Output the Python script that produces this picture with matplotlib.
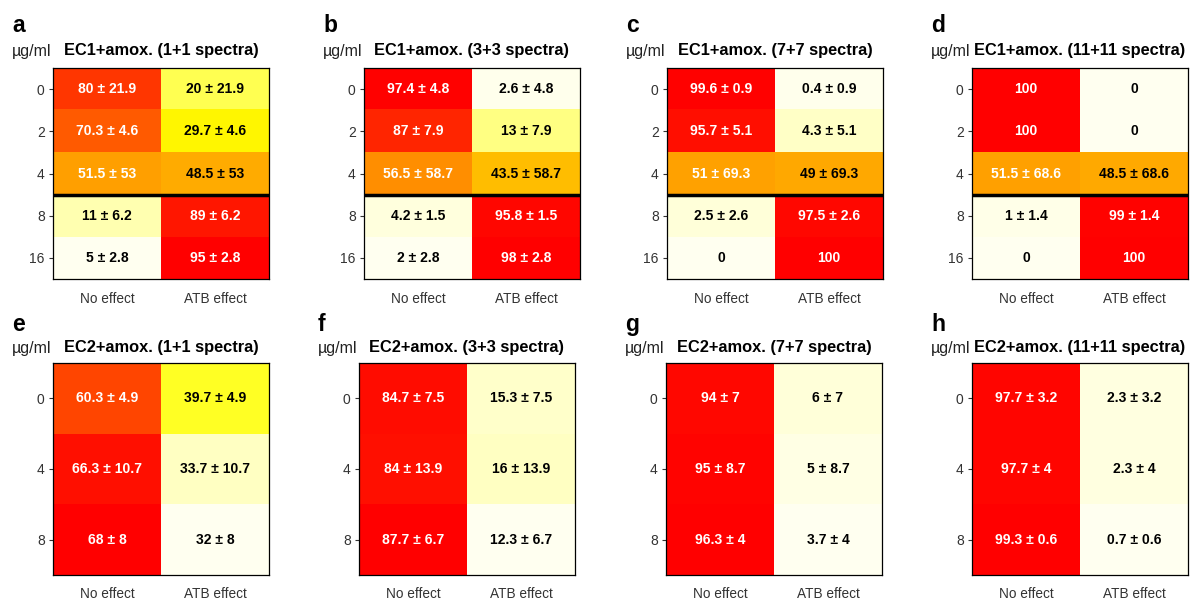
import numpy as np
import matplotlib
matplotlib.use("Agg")
import matplotlib.pyplot as plt
from matplotlib.colors import LinearSegmentedColormap

plt.rcParams['font.family'] = ['Liberation Sans', 'DejaVu Sans']

# Donnees (% "No effect", ecart-type ; ATB effect = 100 - No effect)
letters_ec1 = ['a', 'b', 'c', 'd']
letters_ec2 = ['e', 'f', 'g', 'h']
spectra = ['1+1', '3+3', '7+7', '11+11']
columns = ['No effect', 'ATB effect']

conc_ec1 = ['0', '2', '4', '8', '16']
ec1_noeffect = [[80, 70.3, 51.5, 11, 5],
                [97.4, 87, 56.5, 4.2, 2],
                [99.6, 95.7, 51, 2.5, 0],
                [100, 100, 51.5, 1, 0]]
ec1_sd = [[21.9, 4.6, 53, 6.2, 2.8],
          [4.8, 7.9, 58.7, 1.5, 2.8],
          [0.9, 5.1, 69.3, 2.6, 0],
          [0, 0, 68.6, 1.4, 0]]

conc_ec2 = ['0', '4', '8']
ec2_noeffect = [[60.3, 66.3, 68],
                [84.7, 84, 87.7],
                [94, 95, 96.3],
                [97.7, 97.7, 99.3]]
ec2_sd = [[4.9, 10.7, 8],
          [7.5, 13.9, 6.7],
          [7, 8.7, 4],
          [3.2, 4, 0.6]]

W, H = 1192, 605
fig = plt.figure(figsize=(W / 100, H / 100), dpi=100)

cmap = LinearSegmentedColormap.from_list(
    'ivr', [(0, '#FFFFF0'), (0.25, '#FFFF00'), (0.5, '#FFA500'), (1, '#FF0000')])


def fmt(v):
    return f"{round(v, 1):g}"


def px_text(x, y, s, **kw):
    fig.text(x / W, 1 - y / H, s, **kw)


def panel(x0, y0, w, h, conc, noeff, sd, title, letter, cut_line, row_offsets):
    ax = fig.add_axes([x0 / W, 1 - (y0 + h) / H, w / W, h / H])
    noeff = np.array(noeff, dtype=float)
    atb = np.round(100 - noeff, 1)
    data = np.column_stack([noeff, atb])
    ax.imshow(data, cmap=cmap, vmin=data.min(), vmax=data.max(),
              aspect='auto', interpolation='nearest')
    for i in range(len(conc)):
        for j in range(2):
            v = data[i, j]
            s = fmt(v) if sd[i] == 0 else f"{fmt(v)} \u00b1 {fmt(sd[i])}"
            ax.text(j, i, s, ha='center', va='center', fontsize=10,
                    fontweight='bold', color='white' if v > 50 else 'black')
    if cut_line:
        ax.axhline(2.5, xmin=0, xmax=0.99, color='black', lw=2.5)
    ax.set_xticks([0, 1])
    ax.set_xticklabels(columns)
    ax.set_yticks(range(len(conc)))
    ax.set_yticklabels(conc)
    ax.tick_params(axis='x', length=0, pad=9, labelsize=9.8, labelcolor='#333333')
    ax.tick_params(axis='y', length=3, width=0.8, pad=3, labelsize=10,
                   color='#333333', labelcolor='#333333')
    for sp in ax.spines.values():
        sp.set_linewidth(0.9)
    lb, mb, tb = row_offsets
    px_text(x0 - 41, y0 - lb, letter, fontsize=16.5, fontweight='bold', va='baseline')
    px_text(x0 - 41, y0 - mb, '\u00b5g/ml', fontsize=11.5, va='baseline', color='#222222')
    px_text(x0 + w / 2, y0 - tb, title, fontsize=11.8, fontweight='bold',
            ha='center', va='baseline')
    return ax


top_x = [53, 364, 667, 972]
bot_x = [53, 359, 666, 972]
for k in range(4):
    panel(top_x[k], 68, 216, 211, conc_ec1, ec1_noeffect[k], ec1_sd[k],
          f"EC1+amox. ({spectra[k]} spectra)", letters_ec1[k], True, (36, 12, 13))
    panel(bot_x[k], 363, 216, 212, conc_ec2, ec2_noeffect[k], ec2_sd[k],
          f"EC2+amox. ({spectra[k]} spectra)", letters_ec2[k], False, (32, 10, 11))

fig.savefig('out.png', dpi=100)
